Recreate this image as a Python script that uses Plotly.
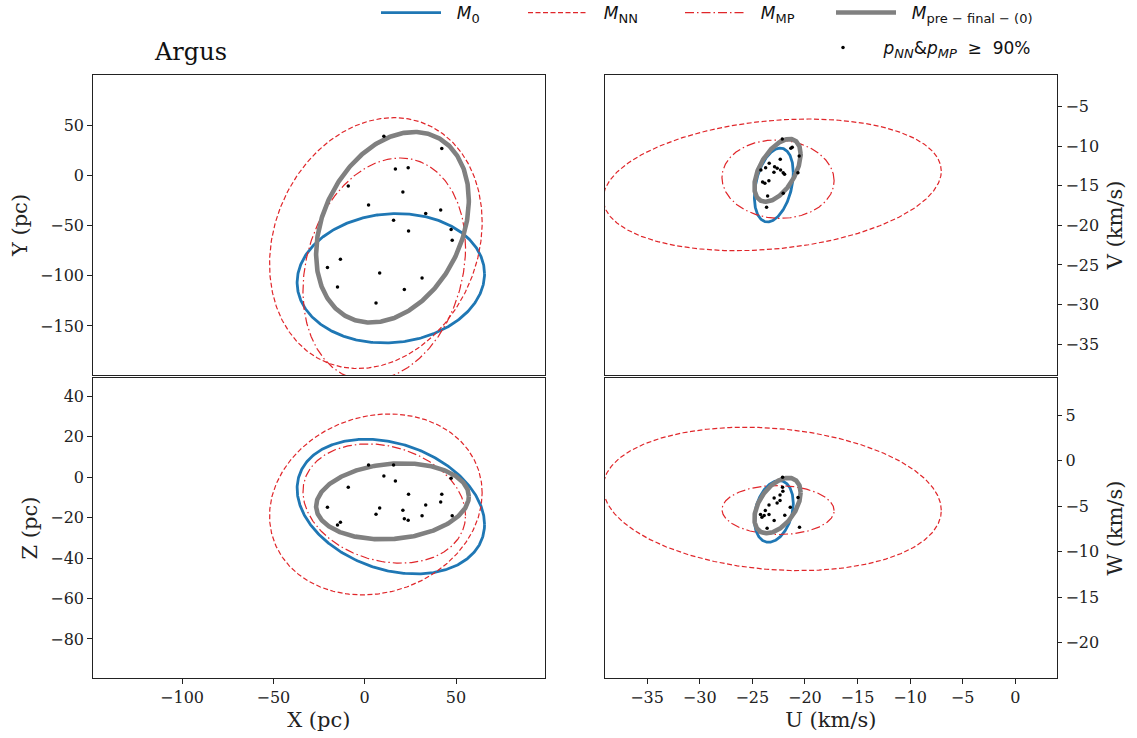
import numpy as np
import plotly.graph_objects as go

# ---------------- data ----------------
# member stars: positions (pc)
star_X = [10.5, 42.2, 16.8, 23.8, -9.0, 20.9, 2.1, 33.4, 41.6, 15.8,
          24.0, 47.3, 47.9, -13.3, -20.4, 8.2, 31.4, -14.9, 21.7, 6.2]
star_Y = [38.8, 26.6, 6.3, 7.6, -10.6, -16.6, -29.5, -38.1, -34.5, -44.8,
          -55.4, -54.0, -64.7, -83.6, -91.9, -97.2, -102.2, -111.1, -113.7, -127.1]
star_Z = [0.6, -8.4, -1.8, -21.3, -5.0, -16.3, 6.1, -13.7, -12.2, 6.1,
          -8.4, -0.5, -19.1, -22.3, -14.8, -15.2, -19.1, -23.6, -20.5, -18.3]

# member stars: velocities (km/s), read per panel
uv_U = [-22.15, -21.33, -21.2, -20.54, -22.34, -23.39, -24.18, -23.73, -22.88, -22.63,
        -22.31, -22.06, -21.93, -22.94, -20.66, -24.02, -23.8, -23.42, -22.06, -23.54, -23.64]
uv_V = [-9.08, -10.26, -10.13, -11.23, -11.65, -12.16, -13.0, -12.71, -12.58, -12.79,
        -13.0, -13.34, -13.55, -13.3, -13.34, -14.52, -14.69, -14.36, -15.95, -16.29, -17.72]
uw_U = [-22.12, -22.12, -22.09, -22.36, -22.92, -20.65, -22.36, -22.64, -23.41, -21.39,
        -23.76, -24.22, -23.41, -23.87, -24.08, -21.91, -22.92, -23.59, -20.51]
uw_W = [-1.83, -2.93, -3.37, -3.78, -4.11, -4.07, -4.40, -4.66, -4.88, -5.13,
        -5.50, -5.94, -5.94, -6.05, -6.23, -6.01, -6.60, -7.44, -7.33]

# model ellipses: centre, half-extent and correlation, order = M0, MNN, MMP, Mpre-final
NB = "\u00a0"


def sub(s):
    return "<sub><span style='font-size:13px'>" + s + "</span></sub>"


model_names = [NB * 2 + "<i>M</i>" + sub("0"),
               NB * 2 + "<i>M</i>" + sub("NN"),
               NB * 2 + "<i>M</i>" + sub("MP"),
               NB * 2 + "<i>M</i>" + sub("pre" + NB + "−" + NB + "final" + NB + "−" + NB + "(0)")]
pos_cx = [14.3, 6.1, 10.7, 15.2]
pos_cy = [-102.5, -67.5, -93.6, -51.75]
pos_cz = [-14.5, -13.45, -13.0, -11.9]
pos_sx = [51.3, 58.2, 44.5, 41.8]
pos_sy = [64.4, 124.85, 110.8, 94.85]
pos_sz = [33.3, 44.75, 29.5, 18.8]
pos_rxy = [0.067, 0.168, 0.195, 0.285]
pos_rxz = [-0.266, 0.127, -0.2, 0.13]

vel_cu = [-22.95, -23.1, -22.55, -22.6]
vel_cv = [-14.9, -14.88, -14.16, -13.05]
vel_cw = [-5.59, -4.22, -5.44, -4.95]
vel_su = [1.85, 16.07, 5.33, 2.2]
vel_sv = [4.67, 8.32, 4.95, 3.97]
vel_sw = [3.39, 7.88, 2.69, 3.05]
vel_ruv = [0.33, 0.21, -0.04, 0.52]
vel_ruw = [0.27, -0.16, -0.02, 0.47]

# ---------------- styles ----------------
RED = "#e0262a"
line_styles = [
    dict(color="#1f77b4", width=2.8),
    dict(color=RED, width=1.2, dash="5px,2.5px"),
    dict(color=RED, width=1.2, dash="9px,3px,1.5px,3px"),
    dict(color="#808080", width=4.6),
]
legend_ids = ["legend", "legend2", "legend3", "legend4"]

t = np.linspace(0, 2 * np.pi, 400)


def ellipse(cx, cy, sx, sy, rho):
    x = cx + sx * np.cos(t)
    y = cy + sy * (rho * np.cos(t) + np.sqrt(1 - rho ** 2) * np.sin(t))
    return x, y


fig = go.Figure()

panels = [
    ("x", "y", pos_cx, pos_cy, pos_sx, pos_sy, pos_rxy),
    ("x2", "y2", vel_cu, vel_cv, vel_su, vel_sv, vel_ruv),
    ("x3", "y3", pos_cx, pos_cz, pos_sx, pos_sz, pos_rxz),
    ("x4", "y4", vel_cu, vel_cw, vel_su, vel_sw, vel_ruw),
]

for pi, (xa, ya, cxs, cys, sxs, sys_, rhos) in enumerate(panels):
    for k in range(4):
        ex, ey = ellipse(cxs[k], cys[k], sxs[k], sys_[k], rhos[k])
        fig.add_trace(go.Scatter(
            x=ex, y=ey, mode="lines", line=line_styles[k], name=model_names[k],
            legendgroup=f"m{k}", showlegend=(pi == 0), legend=legend_ids[k],
            xaxis=xa, yaxis=ya, hoverinfo="skip"))

dot_name = (NB * 1 + "<i>p</i>" + sub("<i>NN</i>") + "&<i>p</i>" + sub("<i>MP</i>")
            + NB * 2 + "≥" + NB * 2 + "90%")
pts = [("x", "y", star_X, star_Y), ("x2", "y2", uv_U, uv_V),
       ("x3", "y3", star_X, star_Z), ("x4", "y4", uw_U, uw_W)]
for pi, (xa, ya, px, py) in enumerate(pts):
    fig.add_trace(go.Scatter(
        x=px, y=py, mode="markers", marker=dict(color="black", size=3.5),
        name=dot_name, legendgroup="pts", showlegend=(pi == 0), legend="legend5",
        xaxis=xa, yaxis=ya))

# ---------------- layout ----------------
W, H = 1137, 738
left_dom = [92.7 / W, 545 / W]
right_dom = [605 / W, 1056.7 / W]
top_dom = [(H - 375) / H, (H - 75) / H]
bot_dom = [(H - 678) / H, (H - 378) / H]

SERIF = "DejaVu Serif"
tickfont = dict(family=SERIF, size=16, color="#222")
titlefont = dict(family=SERIF, size=21, color="#222")

base = dict(showline=True, linecolor="#222", linewidth=1, mirror=True,
            showgrid=False, zeroline=False, ticks="outside", ticklen=4.5,
            tickwidth=1, tickcolor="#222", tickfont=tickfont, automargin=False)

xr_pos = [-148.9, 98.7]
xr_vel = [-39.0, 3.94]

legfont = dict(family="DejaVu Sans", size=17, color="#111")


def leg(x0, ytop, iw=60):
    return dict(orientation="h", x=x0 / W, y=1 - ytop / H, xanchor="left", yanchor="top",
                font=legfont, itemwidth=iw, bgcolor="rgba(0,0,0,0)")


fig.update_layout(
    width=W, height=H,
    margin=dict(l=0, r=0, t=0, b=0, autoexpand=False),
    paper_bgcolor="white", plot_bgcolor="white",
    xaxis=dict(base, domain=left_dom, anchor="y", range=xr_pos,
               showticklabels=False, ticks=""),
    yaxis=dict(base, domain=top_dom, anchor="x", range=[-198.8, 99.8],
               tickvals=[50, 0, -50, -100, -150],
               title=dict(text="Y (pc)", font=titlefont, standoff=6)),
    xaxis2=dict(base, domain=right_dom, anchor="y2", range=xr_vel,
                showticklabels=False, ticks=""),
    yaxis2=dict(base, domain=top_dom, anchor="x2", side="right", range=[-38.9, -1.0],
                tickvals=[-5, -10, -15, -20, -25, -30, -35],
                title=dict(text="V (km/s)", font=titlefont, standoff=9)),
    xaxis3=dict(base, domain=left_dom, anchor="y3", range=xr_pos,
                tickvals=[-100, -50, 0, 50],
                title=dict(text="X (pc)", font=titlefont, standoff=6)),
    yaxis3=dict(base, domain=bot_dom, anchor="x3", range=[-99.3, 49.1],
                tickvals=[40, 20, 0, -20, -40, -60, -80],
                title=dict(text="Z (pc)", font=titlefont, standoff=6)),
    xaxis4=dict(base, domain=right_dom, anchor="y4", range=xr_vel,
                tickvals=[-35, -30, -25, -20, -15, -10, -5, 0],
                title=dict(text="U (km/s)", font=titlefont, standoff=6)),
    yaxis4=dict(base, domain=bot_dom, anchor="x4", side="right", range=[-23.9, 9.07],
                tickvals=[5, 0, -5, -10, -15, -20],
                title=dict(text="W (km/s)", font=titlefont, standoff=9)),
    legend=leg(376, -5),
    legend2=leg(523, -5),
    legend3=leg(680, -5),
    legend4=leg(831, -5),
    legend5=leg(808, 30),
    showlegend=True,
    annotations=[dict(text="Argus", x=190 / W, y=1 - 52 / H, xref="paper", yref="paper",
                      showarrow=False, xanchor="center", yanchor="middle",
                      font=dict(family=SERIF, size=24, color="#111"))],
)

fig.write_html("out.html")
